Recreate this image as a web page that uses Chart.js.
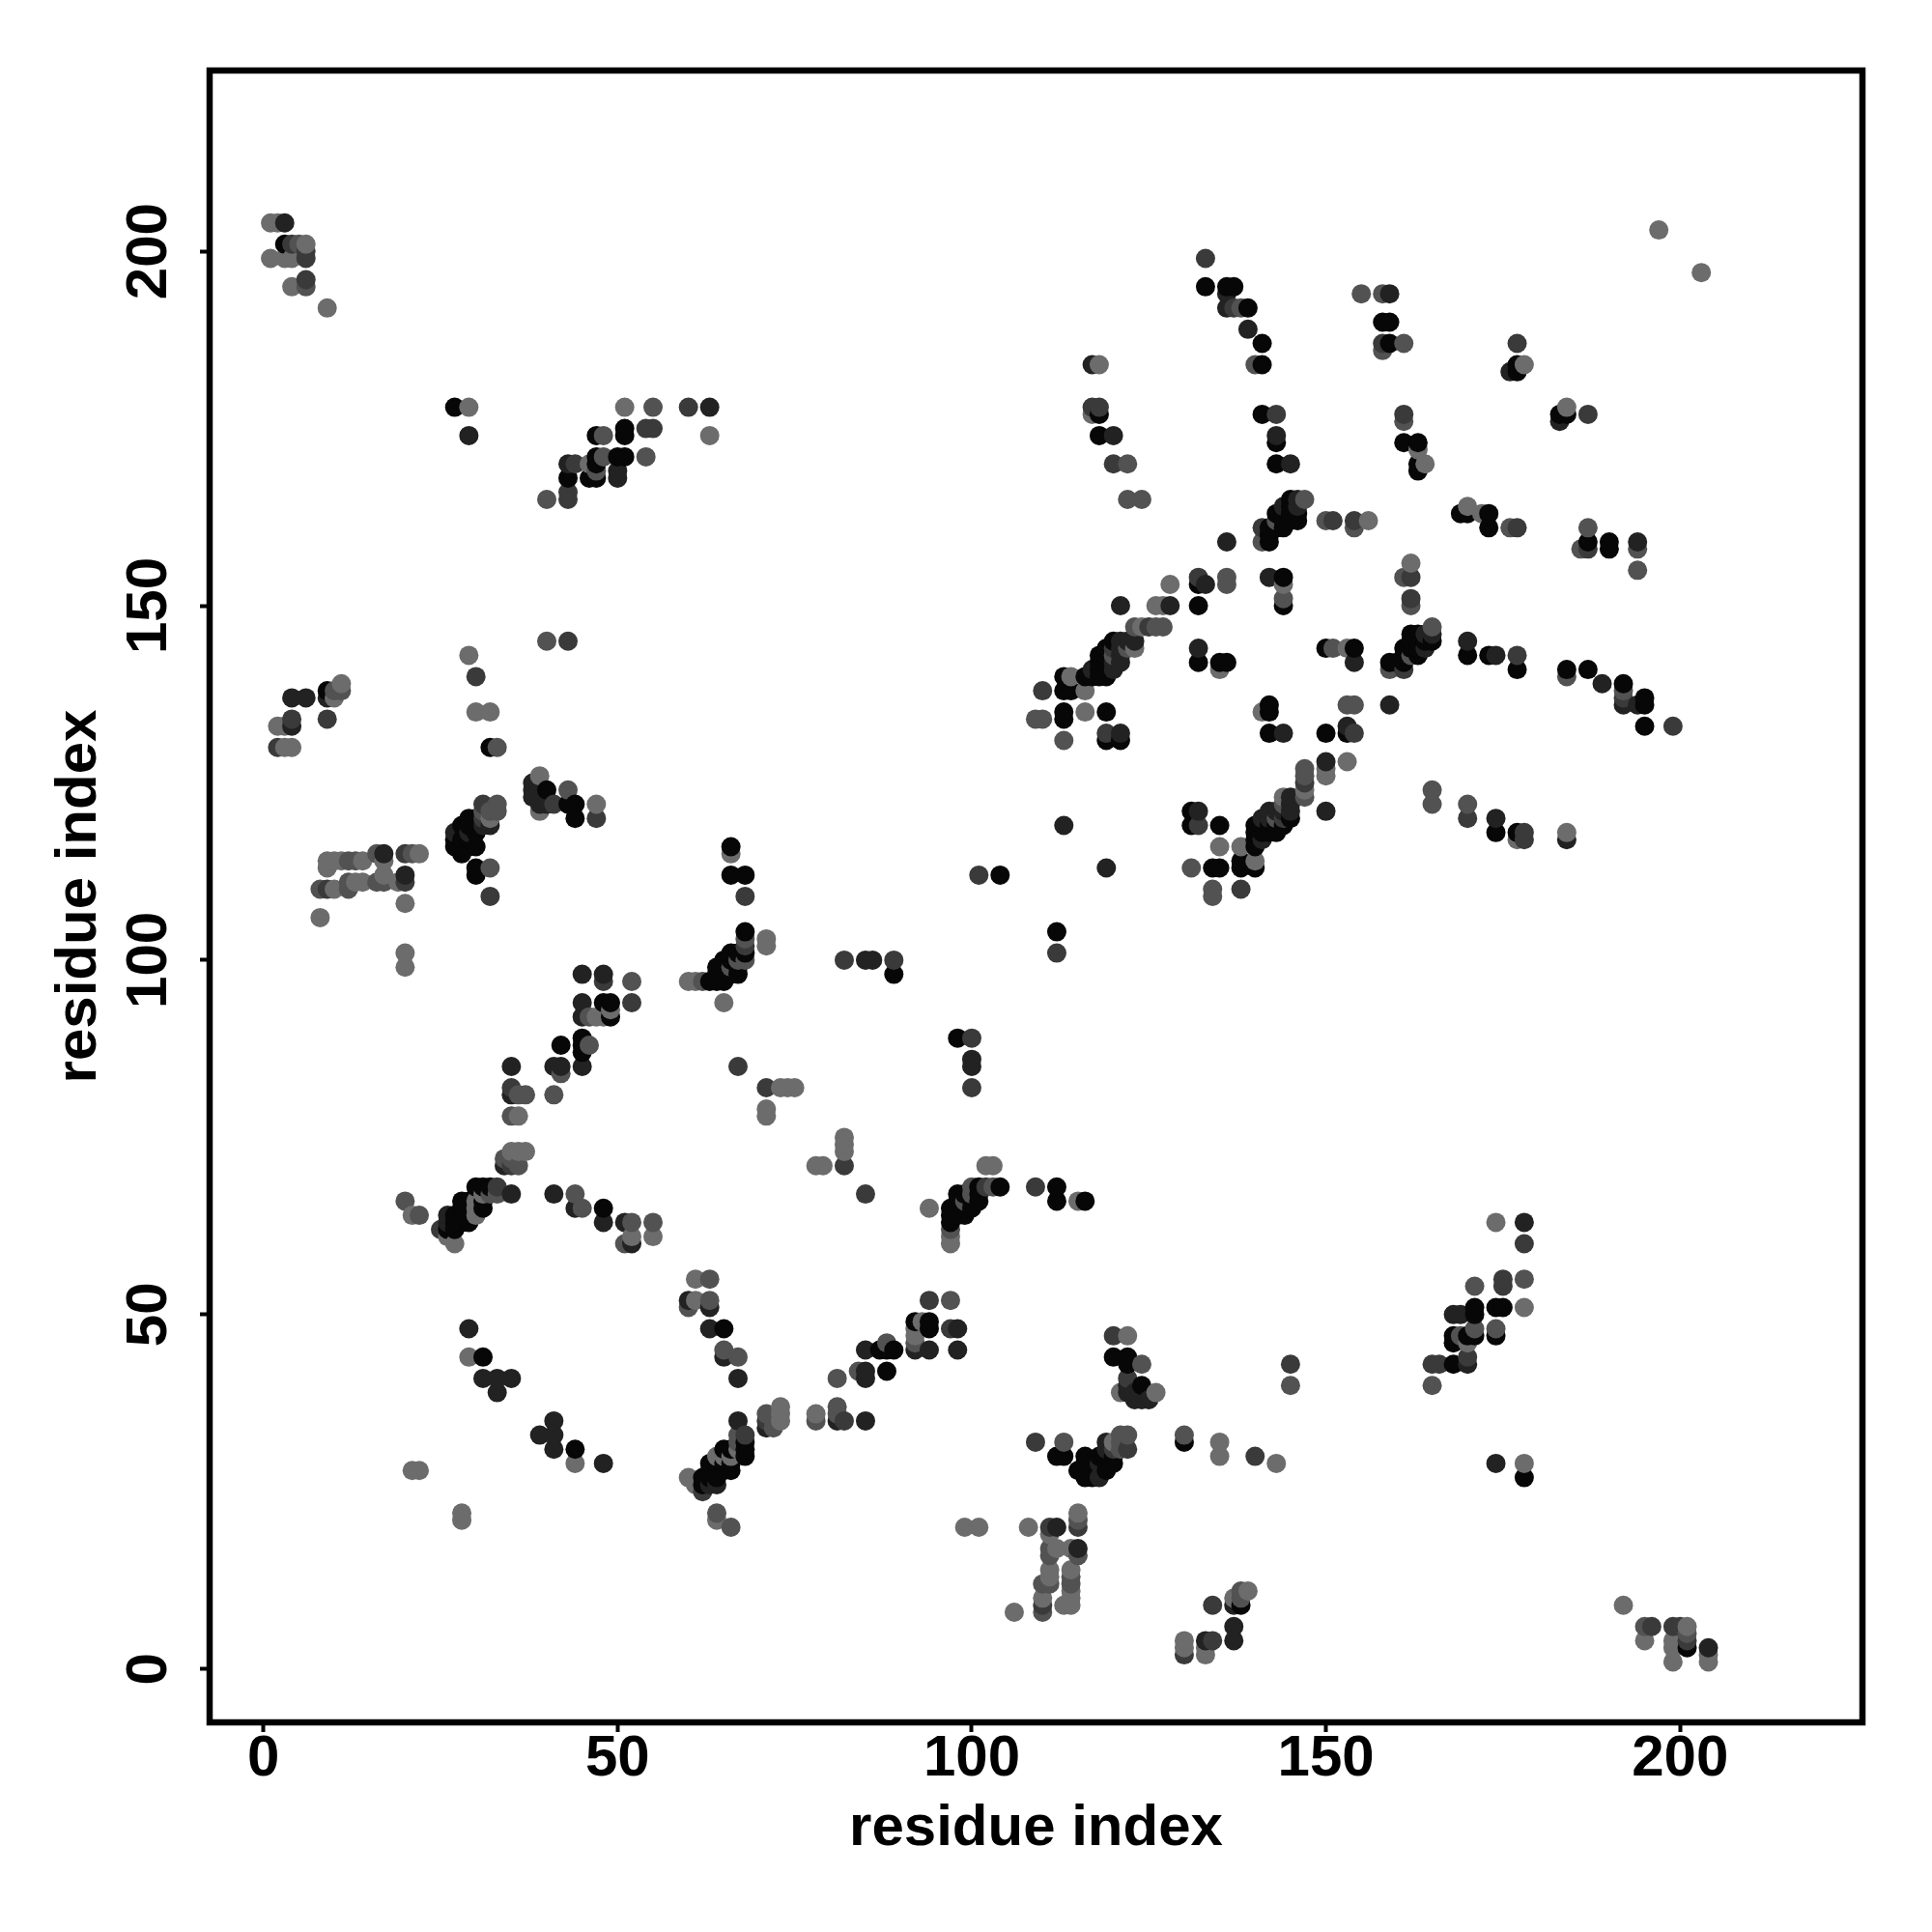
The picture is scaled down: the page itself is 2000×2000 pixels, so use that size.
<!DOCTYPE html>
<html><head><meta charset="utf-8"><style>html,body{margin:0;padding:0;background:#fff}canvas{display:block}</style>
<script src="https://cdn.jsdelivr.net/npm/chart.js@4"></script></head><body>
<canvas id="c" width="2000" height="2000"></canvas>
<script>
const tickValues = [0,50,100,150,200];
const axisTitle = "residue index";
const shadeColors = ["#070707","#222222","#3a3a3a","#525252","#6c6c6c"];
// contacts (i,j), one list per grey level; below the diagonal
const shade0Lower = [[44,31],[62,26],[62,27],[63,27],[63,28],[63,29],[64,27],[64,28],[64,29],[65,28],[65,29],[65,31],[65,48],[66,28],[66,29],[66,31],[68,30],[68,31],[68,32],[87,45],[88,42],[88,45],[89,45],[92,49],[94,48],[94,49],[97,63],[97,64],[97,65],[98,64],[98,65],[98,66],[98,67],[99,64],[99,65],[99,67],[100,65],[100,66],[101,66],[101,67],[101,68],[104,68],[98,89],[112,30],[112,66],[112,68],[112,104],[113,30],[115,28],[116,27],[116,28],[116,29],[116,30],[116,66],[117,27],[117,28],[117,29],[118,30],[119,28],[119,29],[119,30],[120,29],[120,30],[120,44],[122,43],[122,44],[124,40],[130,32],[131,119],[131,121],[134,113],[135,113],[135,119],[138,9],[138,113],[138,114],[140,113],[140,116],[140,117],[140,118],[140,119],[141,118],[141,119],[142,118],[142,119],[143,118],[143,119],[144,119],[145,120],[142,132],[142,135],[142,136],[150,132],[150,144],[153,132],[154,144],[159,142],[160,142],[161,142],[161,143],[161,144],[162,144],[162,145],[162,146],[163,143],[163,144],[163,145],[163,146],[164,145],[165,145],[168,43],[168,46],[168,47],[169,163],[170,47],[170,143],[170,163],[171,47],[171,50],[171,51],[173,143],[173,161],[173,163],[174,47],[174,51],[174,118],[175,51],[177,118],[177,141],[178,27],[183,177],[184,141],[184,177],[187,141],[187,159],[190,158],[190,159],[192,139],[195,133],[195,136],[195,137],[201,3]];
const shade1Lower = [[39,33],[41,31],[41,33],[41,35],[48,29],[60,52],[63,26],[63,48],[63,51],[64,26],[65,44],[67,35],[67,41],[71,34],[81,35],[85,35],[85,41],[85,42],[85,45],[92,45],[94,45],[98,45],[98,48],[100,85],[100,86],[112,20],[115,17],[118,27],[118,29],[119,31],[119,32],[119,113],[122,39],[122,40],[123,38],[123,39],[124,38],[124,39],[125,38],[132,121],[133,4],[137,4],[137,6],[137,9],[141,117],[141,120],[142,120],[142,121],[143,121],[144,121],[144,132],[145,121],[145,122],[145,123],[150,121],[150,128],[153,133],[154,142],[159,136],[164,144],[164,146],[165,146],[168,50],[169,50],[170,43],[170,145],[174,29],[174,120],[174,143],[178,63],[183,176],[184,117],[189,139],[192,136],[194,136],[194,159],[204,3]];
const shade2Lower = [[62,25],[68,33],[71,35],[82,35],[82,71],[85,67],[94,52],[97,48],[100,82],[100,89],[102,68],[109,32],[109,68],[110,9],[111,20],[112,101],[115,20],[120,31],[120,47],[122,31],[122,41],[130,2],[132,119],[134,4],[134,9],[138,110],[140,30],[144,120],[145,43],[147,125],[154,132],[161,141],[162,151],[162,154],[165,43],[166,43],[170,44],[170,120],[175,54],[175,55],[177,143],[177,161],[178,60],[178,117],[178,118],[187,158],[187,177],[192,137],[196,6],[199,6],[199,133],[200,6],[201,4]];
const shade3Lower = [[60,51],[63,52],[63,55],[64,22],[65,45],[66,20],[67,32],[67,33],[67,44],[71,36],[72,34],[72,35],[78,35],[81,36],[81,37],[81,41],[84,42],[88,46],[92,46],[97,52],[97,62],[99,66],[100,67],[100,68],[103,68],[110,8],[110,12],[111,12],[111,16],[111,17],[113,32],[114,12],[114,13],[115,16],[115,21],[121,31],[121,32],[121,33],[122,33],[124,43],[130,33],[131,113],[134,109],[134,110],[138,10],[138,11],[143,120],[144,122],[145,40],[147,123],[147,126],[147,127],[151,144],[153,136],[154,136],[159,141],[161,154],[162,143],[162,150],[165,40],[165,122],[165,124],[165,147],[169,47],[170,122],[171,48],[171,54],[174,48],[176,161],[178,55],[184,140],[186,158],[187,161],[192,138],[194,155],[194,158],[195,6],[201,5]];
const shade4Lower = [[28,21],[28,22],[44,29],[60,27],[61,26],[61,52],[61,55],[64,21],[64,30],[65,30],[66,30],[67,31],[73,35],[73,36],[73,37],[78,36],[78,71],[79,71],[82,73],[82,74],[82,75],[92,47],[92,48],[93,49],[94,65],[97,60],[97,61],[99,20],[101,20],[102,71],[103,71],[106,8],[108,20],[110,10],[111,13],[111,14],[111,19],[112,17],[113,9],[114,9],[114,10],[114,11],[114,14],[114,17],[115,22],[115,66],[120,32],[121,39],[122,47],[126,39],[130,3],[130,4],[133,2],[133,3],[135,30],[135,32],[135,116],[137,10],[138,116],[139,11],[140,114],[141,135],[143,29],[144,123],[147,124],[150,126],[150,127],[153,128],[153,144],[162,156],[170,46],[170,164],[172,163],[174,63],[177,117],[178,29],[178,51],[184,118],[184,178],[192,9],[195,4],[199,1],[199,3],[199,4],[201,6],[203,197],[204,1],[204,2]];
// above the diagonal
const shade0Upper = [[31,44],[26,62],[27,62],[27,63],[28,63],[29,63],[27,64],[28,64],[29,64],[28,65],[29,65],[31,65],[48,65],[28,66],[29,66],[31,66],[30,68],[31,68],[32,68],[45,87],[42,88],[45,88],[45,89],[49,92],[48,94],[49,94],[63,97],[64,97],[65,97],[64,98],[65,98],[66,98],[67,98],[64,99],[65,99],[67,99],[65,100],[66,100],[66,101],[67,101],[68,101],[68,104],[89,98],[30,112],[66,112],[68,112],[104,112],[30,113],[28,115],[27,116],[28,116],[29,116],[30,116],[66,116],[27,117],[28,117],[29,117],[30,118],[28,119],[29,119],[30,119],[29,120],[30,120],[44,120],[43,122],[44,122],[40,124],[32,130],[119,131],[121,131],[113,134],[113,135],[119,135],[9,138],[113,138],[114,138],[113,140],[116,140],[117,140],[118,140],[119,140],[118,141],[119,141],[118,142],[119,142],[118,143],[119,143],[119,144],[120,145],[132,142],[135,142],[136,142],[132,150],[144,150],[132,153],[144,154],[142,159],[142,160],[142,161],[143,161],[144,161],[144,162],[145,162],[146,162],[143,163],[144,163],[145,163],[146,163],[145,164],[145,165],[43,168],[46,168],[47,168],[163,169],[47,170],[143,170],[163,170],[47,171],[50,171],[51,171],[143,173],[161,173],[163,173],[47,174],[51,174],[118,174],[51,175],[118,177],[141,177],[27,178],[177,183],[141,184],[177,184],[141,187],[159,187],[158,190],[159,190],[139,192],[133,195],[136,195],[137,195],[3,201]];
const shade1Upper = [[33,39],[31,41],[33,41],[35,41],[29,48],[52,60],[26,63],[48,63],[51,63],[26,64],[44,65],[35,67],[41,67],[34,71],[35,81],[35,85],[41,85],[42,85],[45,85],[45,92],[45,94],[45,98],[48,98],[85,100],[86,100],[20,112],[17,115],[27,118],[29,118],[31,119],[32,119],[113,119],[39,122],[40,122],[38,123],[39,123],[38,124],[39,124],[38,125],[121,132],[4,133],[4,137],[6,137],[9,137],[117,141],[120,141],[120,142],[121,142],[121,143],[121,144],[132,144],[121,145],[122,145],[123,145],[121,150],[128,150],[133,153],[142,154],[136,159],[144,164],[146,164],[146,165],[50,168],[50,169],[43,170],[145,170],[29,174],[120,174],[143,174],[63,178],[176,183],[117,184],[139,189],[136,192],[136,194],[159,194],[3,204]];
const shade2Upper = [[25,62],[33,68],[35,71],[35,82],[71,82],[67,85],[52,94],[48,97],[82,100],[89,100],[68,102],[32,109],[68,109],[9,110],[20,111],[101,112],[20,115],[31,120],[47,120],[31,122],[41,122],[2,130],[119,132],[4,134],[9,134],[110,138],[30,140],[120,144],[43,145],[125,147],[132,154],[141,161],[151,162],[154,162],[43,165],[43,166],[44,170],[120,170],[54,175],[55,175],[143,177],[161,177],[60,178],[117,178],[118,178],[158,187],[177,187],[137,192],[6,196],[6,199],[133,199],[6,200],[4,201]];
const shade3Upper = [[51,60],[52,63],[55,63],[22,64],[45,65],[20,66],[32,67],[33,67],[44,67],[36,71],[34,72],[35,72],[35,78],[36,81],[37,81],[41,81],[42,84],[46,88],[46,92],[52,97],[62,97],[66,99],[67,100],[68,100],[68,103],[8,110],[12,110],[12,111],[16,111],[17,111],[32,113],[12,114],[13,114],[16,115],[21,115],[31,121],[32,121],[33,121],[33,122],[43,124],[33,130],[113,131],[109,134],[110,134],[10,138],[11,138],[120,143],[122,144],[40,145],[123,147],[126,147],[127,147],[144,151],[136,153],[136,154],[141,159],[154,161],[143,162],[150,162],[40,165],[122,165],[124,165],[147,165],[47,169],[122,170],[48,171],[54,171],[48,174],[161,176],[55,178],[140,184],[158,186],[161,187],[138,192],[155,194],[158,194],[6,195],[5,201]];
const shade4Upper = [[21,28],[22,28],[29,44],[27,60],[26,61],[52,61],[55,61],[21,64],[30,64],[30,65],[30,66],[31,67],[35,73],[36,73],[37,73],[36,78],[71,78],[71,79],[73,82],[74,82],[75,82],[47,92],[48,92],[49,93],[65,94],[60,97],[61,97],[20,99],[20,101],[71,102],[71,103],[8,106],[20,108],[10,110],[13,111],[14,111],[19,111],[17,112],[9,113],[9,114],[10,114],[11,114],[14,114],[17,114],[22,115],[66,115],[32,120],[39,121],[47,122],[39,126],[3,130],[4,130],[2,133],[3,133],[30,135],[32,135],[116,135],[10,137],[116,138],[11,139],[114,140],[135,141],[29,143],[123,144],[124,147],[126,150],[127,150],[128,153],[144,153],[156,162],[46,170],[164,170],[163,172],[63,174],[117,177],[29,178],[51,178],[118,184],[178,184],[9,192],[4,195],[1,199],[3,199],[4,199],[6,201],[197,203],[1,204],[2,204]];

const groups = [[shade0Lower,shade0Upper],[shade1Lower,shade1Upper],[shade2Lower,shade2Upper],[shade3Lower,shade3Upper],[shade4Lower,shade4Upper]];
const table = [];
groups.forEach((g,s)=>g.forEach(list=>list.forEach(p=>table.push({x:p[0],y:p[1],shade:s}))));
table.sort((a,b)=>a.x-b.x||a.y-b.y);

const fontFam = '"Liberation Sans", Arial, sans-serif';
const tickFont = {family:fontFam,size:60,weight:'bold'};
const titleFont = {family:fontFam,size:60,weight:'bold'};

const framePlugin = {id:'frame',
  beforeDatasetsDraw(chart){
    const a=chart.chartArea,c=chart.ctx;
    c.save();c.lineWidth=6.5;c.strokeStyle='#000';c.lineJoin='miter';
    c.strokeRect(a.left,a.top,a.right-a.left,a.bottom-a.top);c.restore();
  },
  afterDraw(chart){
    const s=chart.scales.y,c=chart.ctx;
    c.save();c.font='bold 60px "Liberation Sans", Arial, sans-serif';c.fillStyle='#000';
    c.textAlign='center';c.textBaseline='alphabetic';
    tickValues.forEach(v=>{
      c.save();c.translate(171.5,s.getPixelForValue(v));c.rotate(-Math.PI/2);
      c.fillText(String(v),0,0);c.restore();
    });
    c.restore();
  }
};

new Chart(document.getElementById('c'),{
  type:'scatter',
  data:{datasets:[{
    label:axisTitle,
    data:table,
    pointBackgroundColor:table.map(d=>shadeColors[d.shade]),
    pointBorderWidth:0,
    pointRadius:10,
    pointHoverRadius:10,
    showLine:false
  }]},
  plugins:[framePlugin],
  options:{
    responsive:false,animation:false,devicePixelRatio:1,
    layout:{padding:{left:0,top:73,right:72,bottom:0}},
    plugins:{legend:{display:false},tooltip:{enabled:false},title:{display:false}},
    scales:{
      x:{type:'linear',position:'bottom',min:-7.6,max:225.75,
        afterBuildTicks(s){s.ticks=tickValues.map(v=>({value:v}));},
        afterFit(s){s.height=217;},
        grid:{drawOnChartArea:false,drawTicks:true,tickLength:10,tickWidth:4,color:'#000'},
        border:{display:false},
        ticks:{color:'#000',font:tickFont,padding:-8,maxRotation:0,autoSkip:false},
        title:{display:true,text:axisTitle,color:'#000',font:titleFont,padding:{top:0,bottom:71}}},
      y:{type:'linear',position:'left',min:-7.53,max:225.5,
        afterBuildTicks(s){s.ticks=tickValues.map(v=>({value:v}));},
        afterFit(s){s.width=217;},
        grid:{drawOnChartArea:false,drawTicks:true,tickLength:10,tickWidth:4,color:'#000'},
        border:{display:false},
        ticks:{display:false},
        title:{display:true,text:axisTitle,color:'#000',font:titleFont,padding:{top:46,bottom:0}}}
    }
  }
});
</script></body></html>
